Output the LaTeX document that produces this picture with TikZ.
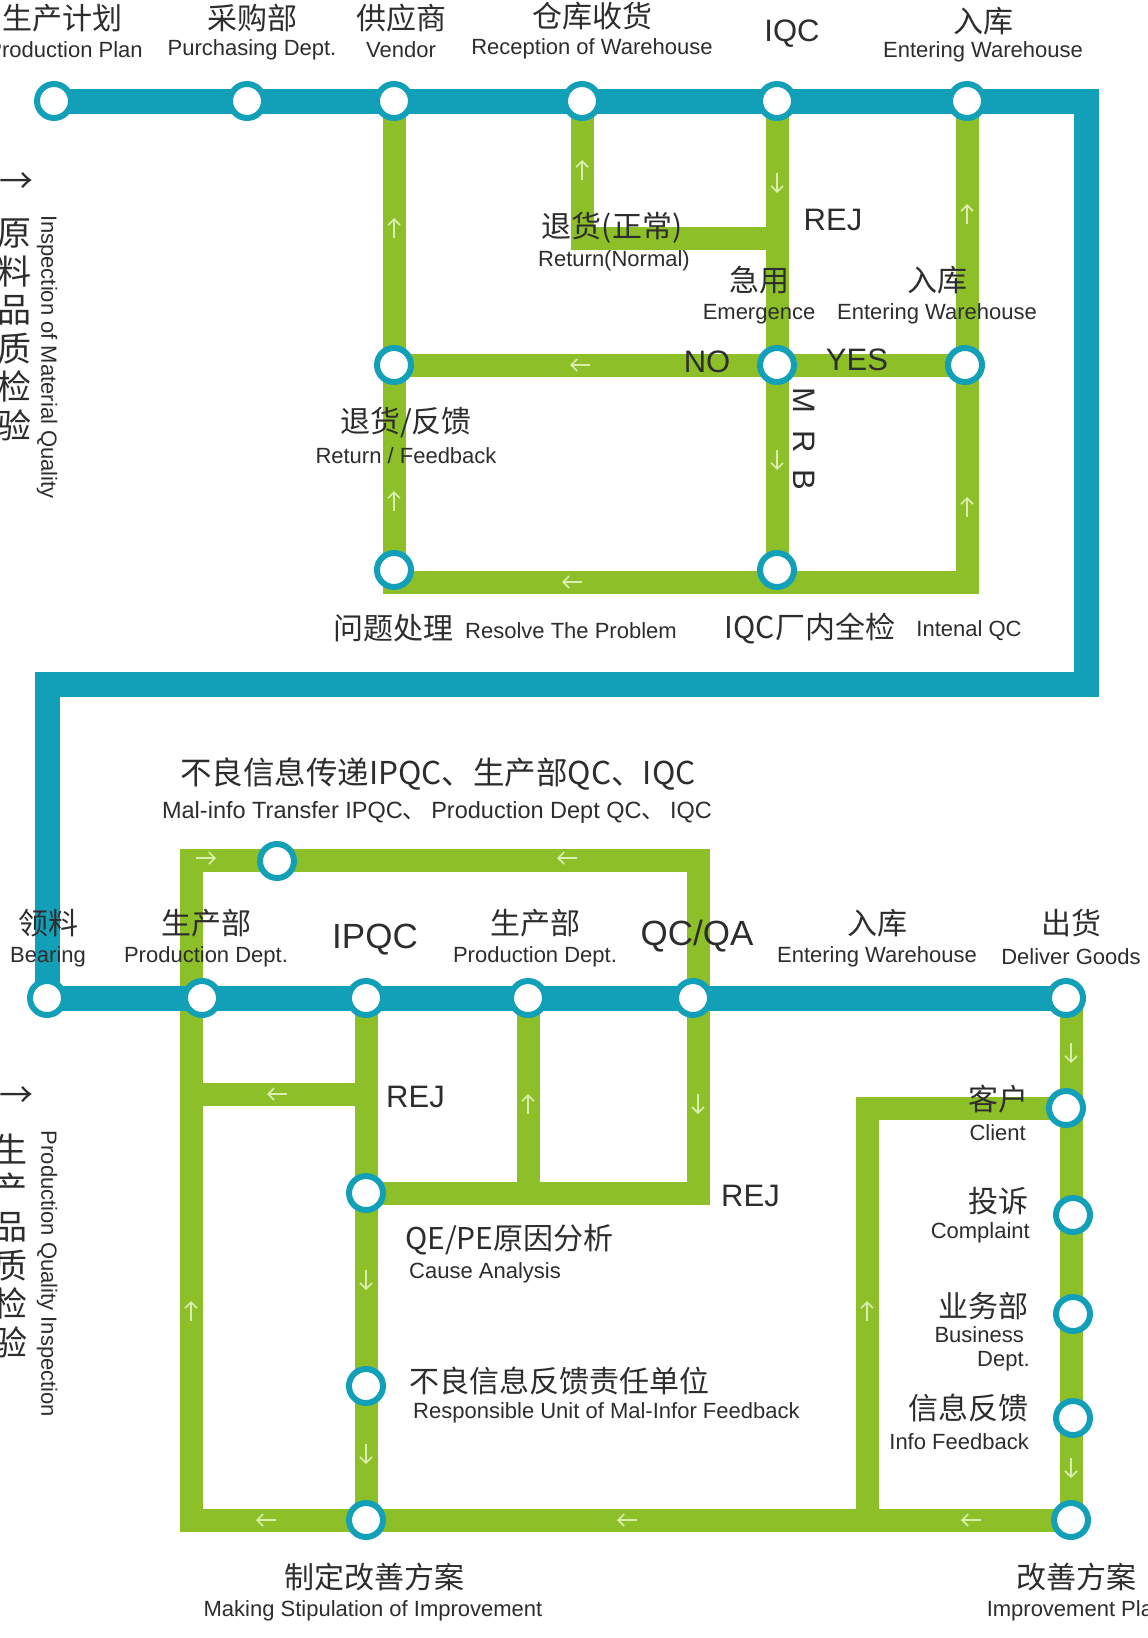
\documentclass[tikz,border=0pt]{standalone}
\usepackage{fontspec}
\setmainfont{Liberation Sans}
\newfontfamily\cjk{Noto Sans CJK SC}
\usetikzlibrary{arrows.meta, positioning}
\usepackage{xcolor}
\definecolor{lineblue}{RGB}{18,160,184}
\definecolor{linegreen}{RGB}{141,192,40}
\definecolor{markgreen}{RGB}{218,238,176}
\definecolor{labelgray}{RGB}{45,45,45}
\pgfdeclarelayer{bg}
\pgfsetlayers{bg,main}

\begin{document}
\begin{tikzpicture}[
x=1pt, y=-1pt,
every node/.style={text=labelgray, inner sep=0pt},
bline/.style={draw=lineblue, line width=25pt, line join=miter},
gline/.style={draw=linegreen, line width=23pt, line join=miter},
station/.style={circle, draw=lineblue, line width=6pt, fill=white, minimum size=34pt},
zh/.style={font=\cjk\fontsize{30}{32}\selectfont},
zhside/.style={font=\cjk\fontsize{34}{38.5}\selectfont, align=center},
en/.style={font=\fontsize{22}{24}\selectfont},
bigtag/.style={font=\fontsize{31}{33}\selectfont},
hugetag/.style={font=\fontsize{35}{37}\selectfont},
flowmark/.style={draw=markgreen, line width=1.6pt, -{Straight Barb[length=6pt,width=12pt]}},
flow/.pic={\draw[flowmark] (-10,0) -- (10,0);}
]
\useasboundingbox (0,0) rectangle (1148,1638);

\node[station] (plan) at (54,101) {};
\node[station] (purch) at (247,101) {};
\node[station] (vendor) at (394,101) {};
\node[station] (recv) at (582,101) {};
\node[station] (iqc) at (777,101) {};
\node[station] (entwh) at (967,101) {};
\node[station] (retfb) at (394,365) {};
\node[station] (emerg) at (777,365) {};
\node[station] (entwhb) at (965,365) {};
\node[station] (resolve) at (394,570) {};
\node[station] (intqc) at (777,570) {};

\node[station] (bearing) at (47,998) {};
\node[station] (prodA) at (202,998) {};
\node[station] (ipqc) at (366,998) {};
\node[station] (prodB) at (528,998) {};
\node[station] (qcqa) at (693,998) {};
\node[station] (deliver) at (1066,998) {};
\node[station] (malinfo) at (277,861) {};
\node[station] (qepe) at (366,1193) {};
\node[station] (respunit) at (366,1386) {};
\node[station] (making) at (366,1520) {};
\node[station] (client) at (1066,1108) {};
\node[station] (complaint) at (1073,1215) {};
\node[station] (business) at (1073,1314) {};
\node[station] (infofb) at (1073,1418) {};
\node[station] (improve) at (1071,1520) {};

\coordinate (trunkA) at (1086,101);
\coordinate (trunkB) at (1086,684);
\coordinate (trunkC) at (47,684);
\coordinate (topbl) at (394,582);
\coordinate (topbr) at (967,582);
\coordinate (retcorner) at (582,238);
\coordinate (retjoin) at (777,238);
\coordinate (loopbl) at (191,1520);
\coordinate (looptl) at (191,860);
\coordinate (looptr) at (698,860);
\coordinate (loopbr) at (698,1193);
\coordinate (rejleft) at (191,1094);
\coordinate (clienttop) at (867,1108);
\coordinate (clientfoot) at (867,1520);

\begin{pgfonlayer}{bg}
\fill[white] (0,0) rectangle (1148,1638);
\draw[gline] (vendor.center) -- (topbl) -- (topbr) -- (entwh.center);
\draw[gline] (recv.center) -- (retcorner) -- (retjoin);
\draw[gline] (iqc.center) -- (intqc.center);
\draw[gline] (retfb.center) -- (entwhb.center);
\draw[gline] (improve.center) -- (loopbl) -- (looptl) -- (looptr) -- (loopbr) -- (qepe.center);
\draw[gline] (ipqc.center) -- (making.center);
\draw[gline] (ipqc |- rejleft) -- (rejleft);
\draw[gline] (prodB.center) -- (prodB |- loopbr);
\draw[gline] (deliver -| improve) -- (improve.center);
\draw[gline] (client.center) -- (clienttop) -- (clientfoot);
\draw[bline] (plan.center) -- (trunkA) -- (trunkB) -- (trunkC) -- (bearing.center) -- (deliver.center);
\foreach \px/\py/\ang in {394/228/90, 394/501/90, 582/170/90, 777/183/-90, 777/460/-90,
  967/214/90, 967/507/90, 580/365/180, 572/582/180,
  206/858/0, 567/858/180, 698/1104/-90, 528/1104/90, 277/1094/180,
  366/1280/-90, 366/1454/-90, 191/1311/90, 266/1520/180, 627/1520/180,
  971/1520/180, 867/1311/90, 1071/1053/-90, 1071/1468/-90}
  \pic[rotate=\ang] at (\px,\py) {flow};
\end{pgfonlayer}

\node[zh] (planzh) at (62,18) {生产计划};
\node[en] (planen) at (65,50) {Production Plan};
\node[zh] (purchzh) at (252,18) {采购部};
\node[en] (purchen) at (252,50) {Purchasing Dept.};
\node[zh] (vendorzh) at (401,18) {供应商};
\node[en] (vendoren) at (401,50) {Vendor};
\node[zh] (recvzh) at (592,16) {仓库收货};
\node[en] (recven) at (592,49) {Reception of Warehouse};
\node[bigtag] (iqctag) at (792,34) {IQC};
\node[zh] (entwhzh) at (983,21) {入库};
\node[en] (entwhen) at (983,52) {Entering Warehouse};

\node[zh] (retnzh) at (612,228) {退货(正常)};
\node[en] (retnen) at (614,261) {Return(Normal)};
\node[bigtag] (rejtop) at (833,220) {REJ};
\node[zh] (emergzh) at (759,280) {急用};
\node[en] (emergen) at (759,314) {Emergence};
\node[zh] (entwhbzh) at (937,280) {入库};
\node[en] (entwhben) at (937,314) {Entering Warehouse};
\node[bigtag] (notag) at (707,362) {NO};
\node[bigtag] (yestag) at (857,360) {YES};
\node[zh] (retfbzh) at (406,423) {退货/反馈};
\node[en] (retfben) at (406,456) {Return / Feedback};
\node[bigtag, rotate=-90] (mrb) at (804,439) {M~~R~~B};
\node[zh] (resolvezh) at (393,628) {问题处理};
\node[en] (resolveen) at (571,631) {Resolve The Problem};
\node[zh] (intqczh) at (810,628) {IQC厂内全检};
\node[en] (intqcen) at (969,631) {Intenal QC};

\node[font=\cjk\fontsize{34}{34}\selectfont] (sidearrA) at (16,183) {→};
\node[zhside] (sidezhA) at (15,330) {原\\料\\品\\质\\检\\验};
\node[en, rotate=-90] (sideenA) at (47,357) {Inspection of Material Quality};
\node[font=\cjk\fontsize{34}{34}\selectfont] (sidearrB) at (16,1097) {→};
\node[zhside] (sidezhB) at (11,1246) {生\\产\\品\\质\\检\\验};
\node[en, rotate=-90] (sideenB) at (47,1274) {Production Quality Inspection};

\node[font=\cjk\fontsize{31.5}{33}\selectfont] (malinfozh) at (438,774) {不良信息传递IPQC、生产部QC、IQC};
\node[font=\fontsize{23.5}{25}\selectfont] (malinfoen) at (437,812) {Mal-info Transfer IPQC{\cjk 、}\hspace{5pt}Production Dept QC{\cjk 、}\hspace{5pt}IQC};
\node[zh] (bearingzh) at (48,923) {领料};
\node[en] (bearingen) at (48,957) {Bearing};
\node[zh] (prodAzh) at (206,923) {生产部};
\node[en] (prodAen) at (206,957) {Production Dept.};
\node[hugetag] (ipqctag) at (375,940) {IPQC};
\node[zh] (prodBzh) at (535,923) {生产部};
\node[en] (prodBen) at (535,957) {Production Dept.};
\node[hugetag] (qcqatag) at (697,936) {QC/QA};
\node[zh] (whzh) at (877,923) {入库};
\node[en] (when) at (877,957) {Entering Warehouse};
\node[zh] (deliverzh) at (1071,923) {出货};
\node[en] (deliveren) at (1071,957) {Deliver Goods};

\node[bigtag, anchor=west] (rejipqc) at (386,1097) {REJ};
\node[bigtag, anchor=west] (rejqc) at (721,1196) {REJ};
\node[zh, anchor=west] (qepezh) at (405,1240) {QE/PE原因分析};
\node[en, anchor=west] (qepeen) at (409,1273) {Cause Analysis};
\node[zh, anchor=west] (respzh) at (409,1381) {不良信息反馈责任单位};
\node[en, anchor=west] (respen) at (413,1413) {Responsible Unit of Mal-Infor Feedback};
\node[zh] (makingzh) at (374,1577) {制定改善方案};
\node[en] (makingen) at (373,1611) {Making Stipulation of Improvement};
\node[zh] (improvezh) at (1076,1577) {改善方案};
\node[en] (improveen) at (1076,1611) {Improvement Plan};

\node[zh, anchor=east] (clientzh) at (1029,1099) {客户};
\node[en, anchor=east] (clienten) at (1026,1133) {Client};
\node[zh, anchor=east] (complaintzh) at (1029,1201) {投诉};
\node[en, anchor=east] (complainten) at (1030,1233) {Complaint};
\node[zh, anchor=east] (businesszh) at (1029,1306) {业务部};
\node[en, anchor=east] (businessen) at (1024,1335) {Business};
\node[en, anchor=east] (businessdept) at (1030,1361) {Dept.};
\node[zh, anchor=east] (infofbzh) at (1029,1408) {信息反馈};
\node[en, anchor=east] (infofben) at (1029,1442) {Info Feedback};

\end{tikzpicture}
\end{document}
